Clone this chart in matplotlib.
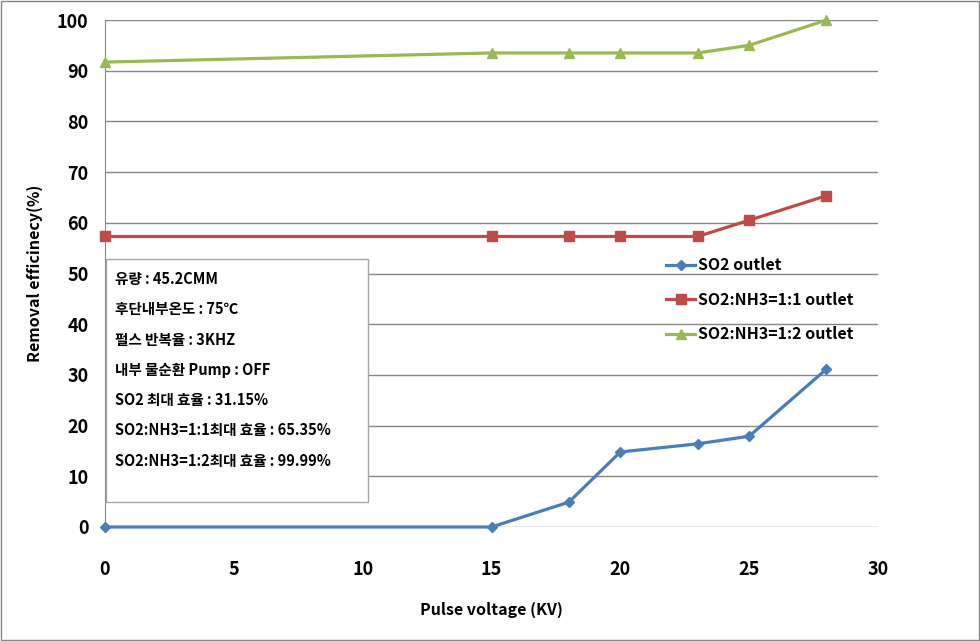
import matplotlib
matplotlib.use("Agg")
from matplotlib import pyplot as plt
from matplotlib.patches import Rectangle

plt.rcParams["font.family"] = ["Noto Sans CJK KR", "DejaVu Sans"]

voltage = [0, 15, 18, 20, 23, 25, 28]
so2 = [0, 0, 4.9, 14.8, 16.4, 17.9, 31.15]
so2_nh3_11 = [57.3, 57.3, 57.3, 57.3, 57.3, 60.5, 65.35]
so2_nh3_12 = [91.7, 93.5, 93.5, 93.5, 93.5, 95.0, 99.99]

series_names = ["SO2 outlet", "SO2:NH3=1:1 outlet", "SO2:NH3=1:2 outlet"]
info_lines = [
    "유량 : 45.2CMM",
    "후단내부온도 : 75℃",
    "펄스 반복율 : 3KHZ",
    "내부 물순환 Pump : OFF",
    "SO2 최대 효율 : 31.15%",
    "SO2:NH3=1:1최대 효율 : 65.35%",
    "SO2:NH3=1:2최대 효율 : 99.99%",
]

W, H = 980, 641
fig = plt.figure(figsize=(W / 100, H / 100), dpi=100)
ax = fig.add_axes([105 / W, 1 - 527 / H, (878 - 105) / W, (527 - 20) / H])

ax.plot(voltage, so2, color="#4A7EBB", lw=2.3, marker="D", ms=5.5,
        label=series_names[0], zorder=3)
ax.plot(voltage, so2_nh3_11, color="#BE4B48", lw=2.3, marker="s", ms=7,
        label=series_names[1], zorder=3)
ax.plot(voltage, so2_nh3_12, color="#98B954", lw=2.3, marker="^", ms=7.5,
        label=series_names[2], zorder=3)

ax.set_xlim(0, 30)
ax.set_ylim(0, 100)
ax.set_xticks(range(0, 31, 5))
ax.set_yticks(range(0, 101, 10))
ax.grid(axis="y", color="#868686", lw=1)
ax.set_axisbelow(True)
for side in ["top", "right", "bottom"]:
    ax.spines[side].set_visible(False)
ax.spines["left"].set_color("#868686")
ax.tick_params(axis="both", length=0, labelsize=13)
ax.tick_params(axis="x", pad=24)
ax.tick_params(axis="y", pad=12)
for lab in ax.get_xticklabels() + ax.get_yticklabels():
    lab.set_fontweight("bold")
for ln in ax.get_lines():
    ln.set_clip_on(False)

ax.set_xlabel("Pulse voltage (KV)", fontsize=11.5, fontweight="bold", labelpad=16)
ax.set_ylabel("Removal efficinecy(%)", fontsize=11.5, fontweight="bold", labelpad=10)

leg = fig.legend(loc="upper left", bbox_to_anchor=(652 / W, 1 - 243 / H),
                 frameon=False, handlelength=1.8,
                 labelspacing=1.15, handletextpad=0.15,
                 prop={"weight": "bold", "size": 11.5})

# info text box
fig.patches.append(Rectangle((106 / W, 1 - 502 / H), (368 - 106) / W, (502 - 259) / H,
                             transform=fig.transFigure, facecolor="white",
                             edgecolor="#a6a6a6", lw=1, zorder=5))
for i, line in enumerate(info_lines):
    fig.text(115 / W, 1 - (279 + i * 30.3) / H, line, fontsize=10.5,
             fontweight="bold", va="center", ha="left", zorder=6)

# outer border
fig.patches.append(Rectangle((0.001, 0.001), 0.998, 0.998, transform=fig.transFigure,
                             fill=False, edgecolor="#868686", lw=1))

fig.savefig("out.png", dpi=100)
